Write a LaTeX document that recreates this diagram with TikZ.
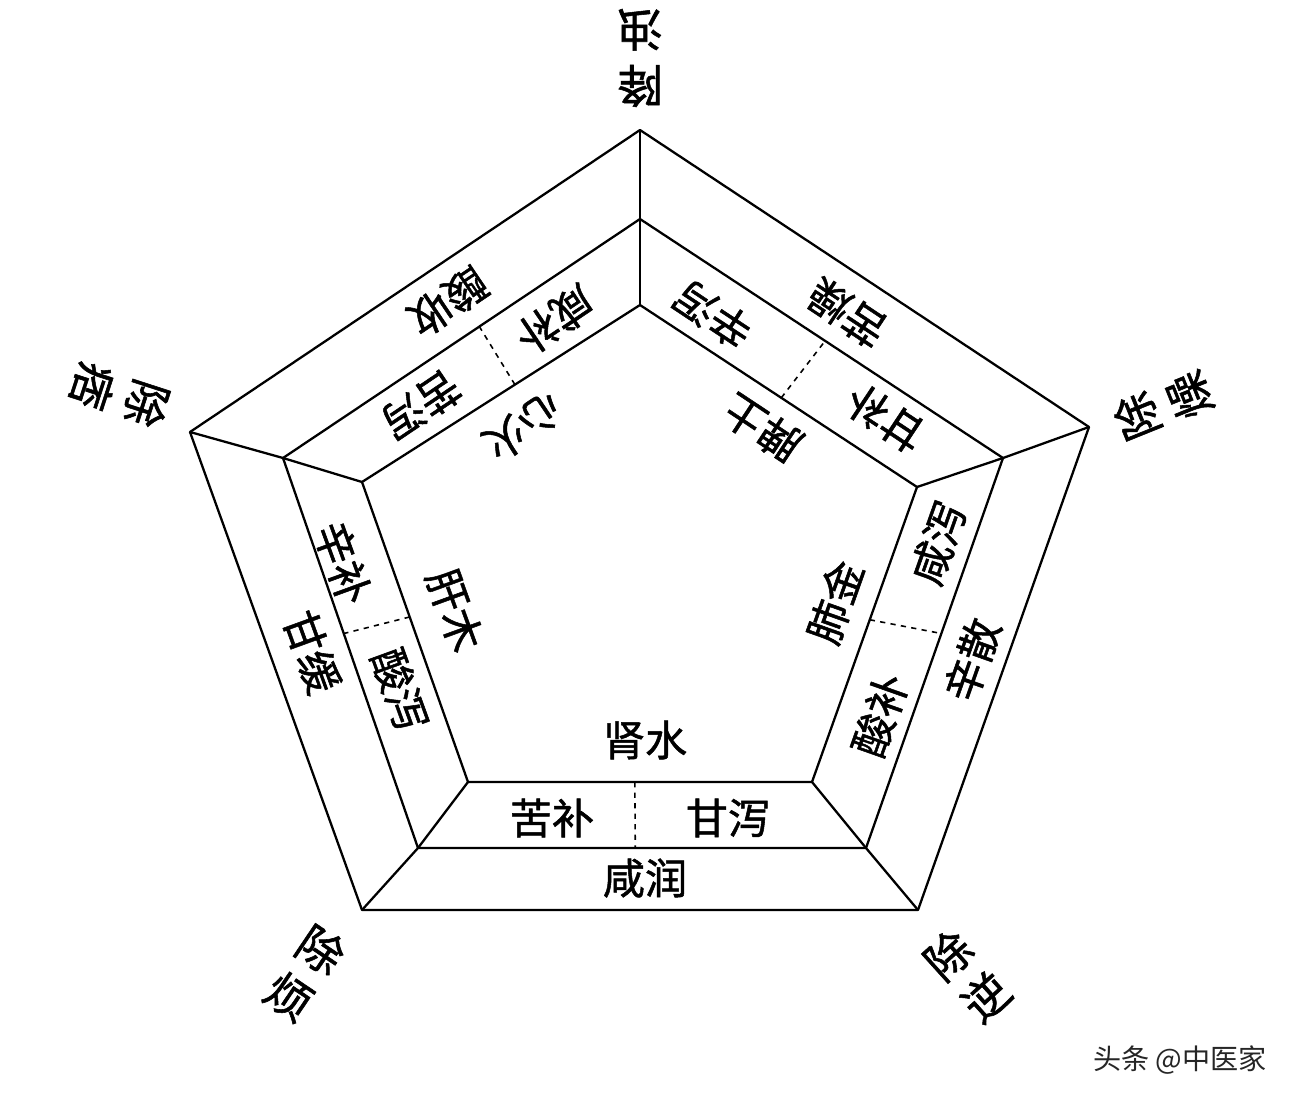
\documentclass[tikz,border=0pt]{standalone}
\usepackage{fontspec}
\setmainfont{Noto Sans CJK SC}
\newfontfamily\medfont{Noto Sans CJK SC}[RawFeature={embolden=1.2}]
\usetikzlibrary{calc}
\begin{document}
\begin{tikzpicture}[x=0.02cm,y=-0.02cm]

\tikzstyle{edge}=[line width=1.3pt, line join=round]
\tikzstyle{word}=[font=\medfont\fontsize{24}{28}\selectfont, inner sep=0pt]
\tikzstyle{tip}=[font=\medfont\fontsize{26}{32}\selectfont, align=center, inner sep=0pt]

\useasboundingbox (0,0) rectangle (1314,1108);

% outer, middle and inner pentagon
\coordinate (o1) at (640,130);
\coordinate (o2) at (1089,427);
\coordinate (o3) at (918,910);
\coordinate (o4) at (362,910);
\coordinate (o5) at (190,432);
\coordinate (m1) at (640,219);
\coordinate (m2) at (1003,458);
\coordinate (m3) at (866,848);
\coordinate (m4) at (418,848);
\coordinate (m5) at (283,458);
\coordinate (i1) at (640,305);
\coordinate (i2) at (917,487);
\coordinate (i3) at (812,782);
\coordinate (i4) at (468,782);
\coordinate (i5) at (362,482);

\draw[edge] (o1)--(o2)--(o3)--(o4)--(o5)--cycle;
\draw[edge] (m1)--(m2)--(m3)--(m4)--(m5)--cycle;
\draw[edge] (i1)--(i2)--(i3)--(i4)--(i5)--cycle;
\foreach \k in {1,...,5}
  \draw[edge] (o\k)--(m\k)--(i\k);
\foreach \a/\b/\t in {1/2/0.51,2/3/0.45,4/3/0.485,5/4/0.45,1/5/0.45}
  \draw[dashed, line width=0.9pt] ($(i\a)!\t!(i\b)$) -- ($(m\a)!\t!(m\b)$);

% kidney
\node[word] (shen) at (645,740) {肾水};
\node[word] (shenbu) at (552,818) {苦补};
\node[word] (shenxie) at (728,818) {甘泻};
\node[word] (shenrun) at (645,878) {咸润};
% liver
\node[word, rotate=-70] (gan) at (455,610) {肝木};
\node[word, rotate=-70] (ganbu) at (343,563) {辛补};
\node[word, rotate=-70] (ganxie) at (400,690) {酸泻};
\node[word, rotate=-70] (ganhuan) at (312,652) {甘缓};
% lung
\node[word, rotate=70.5] (fei) at (835,602) {肺金};
\node[word, rotate=70.5] (feibu) at (880,715) {酸补};
\node[word, rotate=70.5] (feixie) at (938,543) {咸泻};
\node[word, rotate=70.5] (feisan) at (972,660) {辛散};
% spleen
\node[word, rotate=146.5] (pi) at (762,428) {脾土};
\node[word, rotate=146.5] (pibu) at (885,418) {甘补};
\node[word, rotate=146.5] (pixie) at (713,315) {辛泻};
\node[word, rotate=146.5] (pizao) at (847,313) {苦燥};
% heart
\node[word, rotate=-146] (xin) at (523,427) {心火};
\node[word, rotate=-146] (xinbu) at (555,320) {咸补};
\node[word, rotate=-146] (xinxie) at (421,405) {苦泻};
\node[word, rotate=-146] (xinshou) at (448,302) {酸收};

% corners
\node[tip, rotate=180] (jiangzhuo) at (640,58) {降\\浊};
\node[tip, rotate=112] (chuzao) at (1163,406) {除\\燥};
\node[tip, rotate=-108] (chupi) at (120,395) {除\\痞};
\node[tip, rotate=-34] (chufan) at (305,973) {除\\烦};
\node[tip, rotate=42] (chuni) at (967,976) {除\\逆};

\node[font=\fontsize{16}{18}\selectfont, text=black!85, inner sep=0pt] (mark) at (1180,1060) {头条 @中医家};
\end{tikzpicture}
\end{document}
